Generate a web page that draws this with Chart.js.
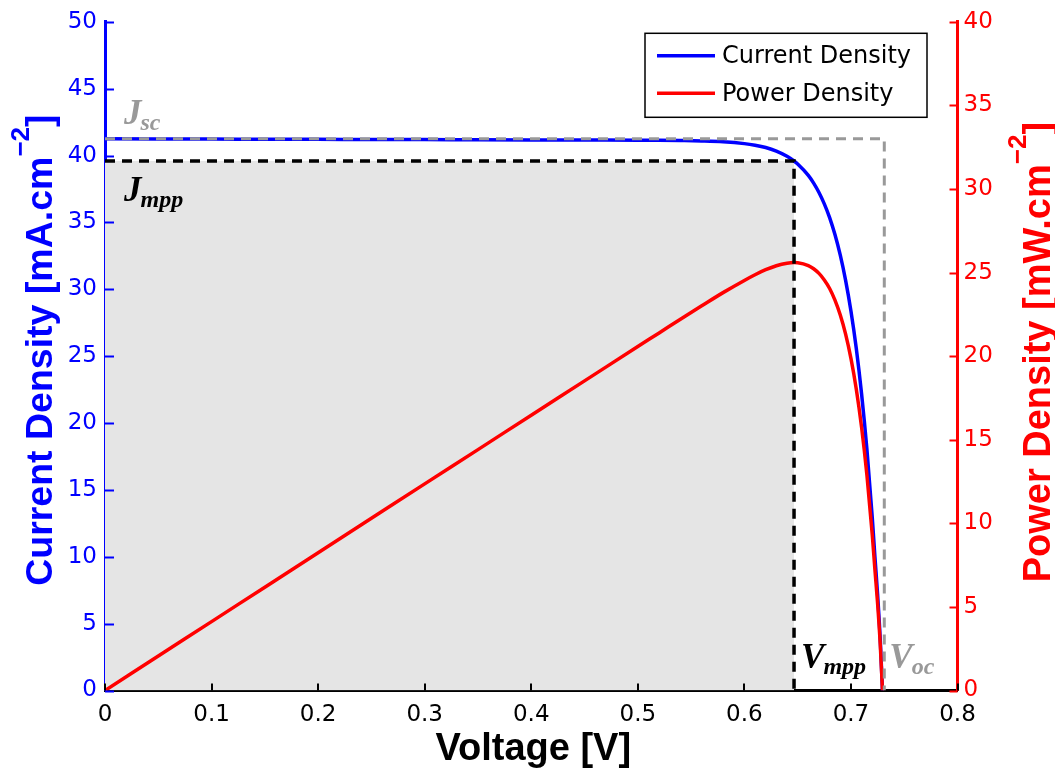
<!DOCTYPE html>
<html><head><meta charset="utf-8">
<script src="https://cdn.jsdelivr.net/npm/chart.js@4"></script>
<style>html,body{margin:0;padding:0;background:#fff}</style>
</head><body>
<canvas id="c" width="1055" height="770"></canvas>
<script>
// ---- data ----
const voltage = [0, 0.05, 0.1, 0.15, 0.2, 0.25, 0.3, 0.35, 0.4, 0.45, 0.5, 0.52, 0.54, 0.56, 0.58, 0.6, 0.61, 0.62, 0.63, 0.64, 0.6466, 0.65, 0.66, 0.665, 0.67, 0.675, 0.68, 0.685, 0.69, 0.695, 0.70, 0.705, 0.71, 0.715, 0.72, 0.7225, 0.725, 0.7275, 0.7296];
const currentDensity = [41.25, 41.24, 41.23, 41.22, 41.21, 41.20, 41.19, 41.18, 41.17, 41.16, 41.15, 41.14, 41.12, 41.09, 41.03, 40.89, 40.77, 40.60, 40.33, 39.94, 39.59, 39.37, 38.52, 37.94, 37.24, 36.39, 35.36, 34.09, 32.55, 30.67, 28.38, 25.59, 22.17, 18.02, 12.94, 10.00, 7.20, 3.80, 0];
const powerDensity = [0, 2.06, 4.12, 6.18, 8.24, 10.30, 12.36, 14.41, 16.47, 18.52, 20.58, 21.39, 22.21, 23.01, 23.80, 24.53, 24.87, 25.17, 25.41, 25.56, 25.60, 25.59, 25.42, 25.23, 24.95, 24.56, 24.05, 23.35, 22.46, 21.32, 19.87, 18.04, 15.74, 12.88, 9.32, 7.23, 5.22, 2.77, 0];
const Jsc = 41.25, Voc = 0.7313, Jmpp = 39.6, Vmpp = 0.6466;
const xRange = [0, 0.8], xStep = 0.1;
const yLeftRange = [0, 50], yRightRange = [0, 40], yStep = 5;
const seriesLabels = ['Current Density', 'Power Density'];
const xTitle = 'Voltage [V]';
const yLeftTitle = ['Current Density [mA.cm', '\u22122', ']'];
const yRightTitle = ['Power Density [mW.cm', '\u22122', ']'];

const BLUE = '#0000ff', RED = '#ff0000', GRAY = '#999999';
const pts = (xs, ys) => xs.map((v, i) => ({x: v, y: ys[i]}));

const inwardTicks = {
  id: 'inwardTicks',
  afterDraw(chart) {
    const {ctx, chartArea: a, scales} = chart;
    ctx.save();
    ctx.lineWidth = 2;
    ctx.strokeStyle = BLUE;
    scales.y.ticks.forEach(t => { const p = Math.round(scales.y.getPixelForValue(t.value)) + 0.5; ctx.beginPath(); ctx.moveTo(a.left, p); ctx.lineTo(a.left + 9, p); ctx.stroke(); });
    ctx.strokeStyle = RED;
    scales.y1.ticks.forEach(t => { const p = Math.round(scales.y1.getPixelForValue(t.value)) + 0.5; ctx.beginPath(); ctx.moveTo(a.right, p); ctx.lineTo(a.right - 8, p); ctx.stroke(); });
    ctx.strokeStyle = '#000';
    scales.x.ticks.forEach(t => { const p = Math.round(scales.x.getPixelForValue(t.value)); ctx.beginPath(); ctx.moveTo(p, a.bottom); ctx.lineTo(p, a.bottom - 7); ctx.stroke(); });
    ctx.restore();
  }
};

function drawSupTitle(ctx, parts, color, cy, baseX, size) {
  ctx.save();
  ctx.translate(baseX, cy);
  ctx.rotate(-Math.PI / 2);
  ctx.fillStyle = color;
  const big = `bold ${size}px "Liberation Sans", Arial, sans-serif`;
  const small = `bold ${Math.round(size * 0.68)}px "Liberation Sans", Arial, sans-serif`;
  ctx.font = big; const w1 = ctx.measureText(parts[0]).width; const w3 = ctx.measureText(parts[2]).width;
  ctx.font = small; const w2 = ctx.measureText(parts[1]).width;
  const total = w1 + w2 + w3;
  let x = -total / 2;
  ctx.textBaseline = 'alphabetic'; ctx.textAlign = 'left';
  ctx.font = big; ctx.fillText(parts[0], x, 0); x += w1;
  ctx.font = small; ctx.fillText(parts[1], x, -size * 0.62); x += w2;
  ctx.font = big; ctx.fillText(parts[2], x, 0);
  ctx.restore();
}

const titles = {
  id: 'titles',
  afterDraw(chart) {
    const {ctx, chartArea: a} = chart;
    ctx.save();
    ctx.fillStyle = '#000';
    ctx.font = 'bold 38px "Liberation Sans", Arial, sans-serif';
    ctx.textAlign = 'center'; ctx.textBaseline = 'alphabetic';
    ctx.fillText(xTitle, (a.left + a.right) / 2 + 2, 760);
    ctx.restore();
    const cy = (a.top + a.bottom) / 2 - 6;
    drawSupTitle(ctx, yLeftTitle, BLUE, cy, 52, 37.5);
    drawSupTitle(ctx, yRightTitle, RED, cy + 2, 1050, 38);
  }
};

function labelWithSub(ctx, x, y, main, sub, color) {
  ctx.fillStyle = color;
  ctx.textAlign = 'left'; ctx.textBaseline = 'alphabetic';
  ctx.font = 'bold italic 35px "Liberation Serif", "Times New Roman", serif';
  ctx.fillText(main, x, y);
  const w = ctx.measureText(main).width;
  ctx.font = 'bold italic 24px "Liberation Serif", "Times New Roman", serif';
  ctx.fillText(sub, x + w - 1, y + 6);
}

const annotations = {
  id: 'annotations',
  afterDatasetsDraw(chart) {
    const {ctx, scales} = chart;
    const x0 = scales.x.getPixelForValue(0);
    ctx.save();
    labelWithSub(ctx, x0 + 19, scales.y.getPixelForValue(Jsc) - 15, 'J', 'sc', GRAY);
    labelWithSub(ctx, x0 + 19, scales.y.getPixelForValue(Jmpp) + 40, 'J', 'mpp', '#000');
    const yb = scales.y.getPixelForValue(0) - 23;
    labelWithSub(ctx, scales.x.getPixelForValue(Vmpp) + 7, yb, 'V', 'mpp', '#000');
    labelWithSub(ctx, scales.x.getPixelForValue(Voc) + 5, yb, 'V', 'oc', GRAY);
    ctx.restore();
  }
};

const boxLegend = {
  id: 'boxLegend',
  afterDraw(chart) {
    const {ctx, chartArea: a} = chart;
    const right = a.right - 30.5, top = a.top + 11.5, w = 282, h = 84;
    const left = right - w;
    ctx.save();
    ctx.fillStyle = '#fff';
    ctx.fillRect(left, top, w, h);
    ctx.strokeStyle = '#000'; ctx.lineWidth = 1.5;
    ctx.strokeRect(left, top, w, h);
    const entries = [[seriesLabels[0], BLUE], [seriesLabels[1], RED]];
    entries.forEach(([txt, col], i) => {
      const y = top + 22.5 + i * 37.5;
      ctx.strokeStyle = col; ctx.lineWidth = 3.5;
      ctx.beginPath(); ctx.moveTo(left + 12, y); ctx.lineTo(left + 70, y); ctx.stroke();
      ctx.fillStyle = '#000';
      ctx.font = '24px "DejaVu Sans", sans-serif';
      ctx.textAlign = 'left'; ctx.textBaseline = 'middle';
      ctx.fillText(txt, left + 77, y + 1);
    });
    ctx.restore();
  }
};

const fmt = v => String(+(+v).toFixed(2));
const tickFont = { family: '"DejaVu Sans", sans-serif', size: 23 };

new Chart(document.getElementById('c'), {
  type: 'line',
  data: {
    datasets: [
      { label: 'mpp area', data: pts([0, Vmpp, Vmpp], [Jmpp, Jmpp, 0]), yAxisID: 'y', fill: 'origin', backgroundColor: '#e5e5e5', borderWidth: 0, borderColor: 'rgba(0,0,0,0)', pointRadius: 0, order: 10 },
      { label: seriesLabels[0], data: pts(voltage, currentDensity), yAxisID: 'y', borderColor: BLUE, borderWidth: 3.5, pointRadius: 0, fill: false, cubicInterpolationMode: 'monotone', order: 4 },
      { label: seriesLabels[1], data: pts(voltage, powerDensity), yAxisID: 'y1', borderColor: RED, borderWidth: 3.5, pointRadius: 0, fill: false, cubicInterpolationMode: 'monotone', order: 3 },
      { label: 'mpp lines', data: pts([0, Vmpp, Vmpp], [Jmpp, Jmpp, 0]), yAxisID: 'y', borderColor: '#000', borderWidth: 3.5, borderDash: [10, 7], pointRadius: 0, fill: false, order: 2 },
      { label: 'sc/oc lines', data: pts([0, Voc, Voc], [Jsc, Jsc, 0]), yAxisID: 'y', borderColor: GRAY, borderWidth: 3, borderDash: [10, 7], pointRadius: 0, fill: false, order: 1 }
    ]
  },
  options: {
    responsive: false,
    animation: false,
    devicePixelRatio: 1,
    layout: { padding: { top: 20.5, left: 0, right: 0, bottom: 0 } },
    plugins: { legend: { display: false }, tooltip: { enabled: false } },
    scales: {
      x: {
        type: 'linear', min: xRange[0], max: xRange[1],
        grid: { drawOnChartArea: false, drawTicks: false },
        border: { color: '#000', width: 3 },
        ticks: { stepSize: xStep, color: '#000', padding: 11, font: tickFont, callback: fmt, maxRotation: 0, autoSkip: false },
        afterFit(s) { s.height = 79.5; }
      },
      y: {
        type: 'linear', position: 'left', min: yLeftRange[0], max: yLeftRange[1],
        grid: { drawOnChartArea: false, drawTicks: false },
        border: { color: BLUE, width: 3 },
        ticks: { stepSize: yStep, color: BLUE, padding: 8, font: tickFont, callback: fmt, autoSkip: false },
        afterFit(s) { s.width = 105; }
      },
      y1: {
        type: 'linear', position: 'right', min: yRightRange[0], max: yRightRange[1],
        grid: { drawOnChartArea: false, drawTicks: false },
        border: { color: RED, width: 3 },
        ticks: { stepSize: yStep, color: RED, padding: 6, font: tickFont, callback: fmt, autoSkip: false },
        afterFit(s) { s.width = 97.5; }
      }
    }
  },
  plugins: [annotations, inwardTicks, titles, boxLegend]
});
</script>
</body></html>
